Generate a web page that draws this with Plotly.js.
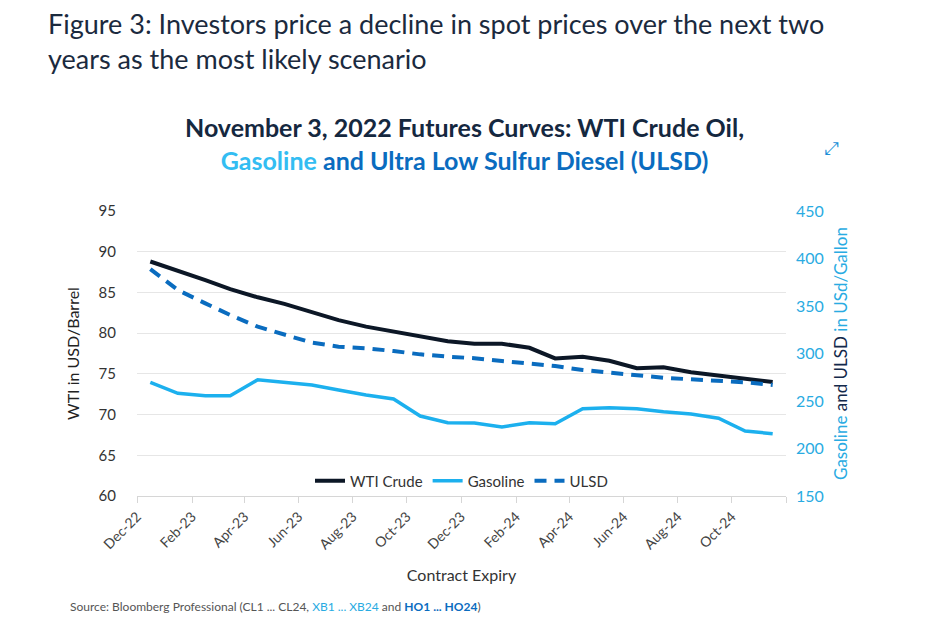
<!DOCTYPE html>
<html>
<head>
<meta charset="utf-8">
<script src="https://cdn.plot.ly/plotly-3.0.1.min.js"></script>
<style>
html,body{margin:0;padding:0;background:#fff;}
#chart{width:930px;height:625px;}
</style>
</head>
<body>
<div id="chart"></div>
<script>
// Contract months (Dec-22 .. Nov-24)
const months = ["2022-12","2023-01","2023-02","2023-03","2023-04","2023-05","2023-06","2023-07","2023-08","2023-09","2023-10","2023-11",
                "2023-12","2024-01","2024-02","2024-03","2024-04","2024-05","2024-06","2024-07","2024-08","2024-09","2024-10","2024-11"];
// WTI crude, USD/barrel
const wti = [88.8,87.7,86.5,85.4,84.4,83.6,82.6,81.6,80.8,80.2,79.5,79.0,
             78.7,78.7,78.2,76.9,77.1,76.6,75.7,75.8,75.2,74.8,74.4,74.0];
// Gasoline, USd/gallon
const gasoline = [269.7,258.1,255.6,255.6,272.4,270.0,266.8,261.6,256.3,252.1,234.2,227.2,
                  226.8,222.6,227.2,226.1,241.9,243.0,241.9,238.7,236.3,231.8,218.4,215.6];
// ULSD, USd/gallon
const ulsd = [388.9,366.8,352.8,340.5,328.2,320.2,311.4,307.2,305.5,302.6,299.1,296.7,
              295.0,292.1,289.7,286.8,282.6,279.8,276.3,274.5,272.8,271.4,269.7,266.8];
// Tick positions and labels
const tickMonths = ["2022-12","2023-02","2023-04","2023-06","2023-08","2023-10","2023-12","2024-02","2024-04","2024-06","2024-08","2024-10","2024-12"];
const tickLabels = ["Dec-22","Feb-23","Apr-23","Jun-23","Aug-23","Oct-23","Dec-23","Feb-24","Apr-24","Jun-24","Aug-24","Oct-24",""];

const xs = months.map(m => m + "-16");
const FONT = "Lato, 'Noto Sans', sans-serif";

const traces = [
  {x: xs, y: wti, name: "WTI Crude", type: "scatter", mode: "lines",
   line: {color: "#0c1726", width: 4}, yaxis: "y"},
  {x: xs, y: gasoline, name: "Gasoline", type: "scatter", mode: "lines",
   line: {color: "#1cb0ee", width: 3.5}, yaxis: "y2"},
  {x: xs, y: ulsd, name: "ULSD", type: "scatter", mode: "lines",
   line: {color: "#0a6cbf", width: 4, dash: "12px,8px"}, yaxis: "y2"}
];

const layout = {
  width: 930, height: 625,
  margin: {l: 137, r: 144, t: 211, b: 129},
  paper_bgcolor: "#fff", plot_bgcolor: "#fff",
  font: {family: FONT, color: "#333", size: 14},
  showlegend: true,
  legend: {orientation: "h", x: 0.5, xanchor: "center", y: 0.053, yanchor: "middle",
           font: {family: FONT, size: 15, color: "#333"}, bgcolor: "rgba(0,0,0,0)"},
  xaxis: {
    type: "date",
    range: ["2022-12-01", "2024-12-01"],
    tickmode: "array",
    tickvals: tickMonths.map(m => m + "-01"),
    ticktext: tickLabels,
    tickangle: -45,
    ticks: "outside", ticklen: 6, tickcolor: "#d6d6d6",
    showline: true, linecolor: "#d6d6d6", linewidth: 1,
    showgrid: false, zeroline: false,
    tickfont: {family: FONT, size: 14, color: "#444"},
    title: {text: "Contract Expiry", font: {family: FONT, size: 16, color: "#333"}, standoff: 18}
  },
  yaxis: {
    range: [60, 95], dtick: 5, tick0: 60,
    showgrid: true, gridcolor: "#e6e6e6", gridwidth: 1,
    zeroline: false, showline: false,
    ticklabelstandoff: 20,
    tickfont: {family: FONT, size: 15, color: "#333"},
    title: {text: "WTI in USD/Barrel", font: {family: FONT, size: 16, color: "#222"}, standoff: 14}
  },
  yaxis2: {
    range: [150, 450], dtick: 50, tick0: 150,
    overlaying: "y", side: "right",
    showgrid: false, zeroline: false, showline: false,
    ticklabelstandoff: 9,
    tickfont: {family: FONT, size: 16, color: "#29abe2"},
    title: {text: "<span style='color:#29abe2'>Gasoline</span> <span style='color:#13294b'>and ULSD</span> <span style='color:#29abe2'>in USd/Gallon</span>",
            font: {family: FONT, size: 17, color: "#29abe2"}, standoff: 12}
  },
  annotations: [
    {text: "Figure 3: Investors price a decline in spot prices over the next two<br>years as the most likely scenario",
     xref: "paper", yref: "paper", x: (46 - 137)/649, y: (496 - 5)/285, xanchor: "left", yanchor: "top", align: "left",
     showarrow: false, font: {family: FONT, size: 27, color: "#1b2a3e"}},
    {text: "<b>November 3, 2022 Futures Curves: WTI Crude Oil,</b><br><b><span style='color:#33bdf2'>Gasoline</span> <span style='color:#0a6cbf'>and Ultra Low Sulfur Diesel (ULSD)</span></b>",
     xref: "paper", yref: "paper", x: (464 - 137)/649, y: (496 - 110)/285, xanchor: "center", yanchor: "top", align: "center",
     showarrow: false, font: {family: FONT, size: 25, color: "#15283f"}},
    {text: "⤢", xref: "paper", yref: "paper", x: (831 - 137)/649, y: (496 - 147)/285, xanchor: "center", yanchor: "middle",
     showarrow: false, font: {family: "DejaVu Sans", size: 18, color: "#1a8fd8"}},
    {text: "Source: Bloomberg Professional (CL1 ... CL24, <span style='color:#29abe2'>XB1 ... XB24</span> and <b><span style='color:#0a6cbf'>HO1 ... HO24</span></b>)",
     xref: "paper", yref: "paper", x: (68 - 137)/649, y: (496 - 606)/285, xanchor: "left", yanchor: "middle", align: "left",
     showarrow: false, font: {family: FONT, size: 12, color: "#555"}}
  ]
};

Plotly.newPlot("chart", traces, layout, {displayModeBar: false, staticPlot: true});
</script>
</body>
</html>
